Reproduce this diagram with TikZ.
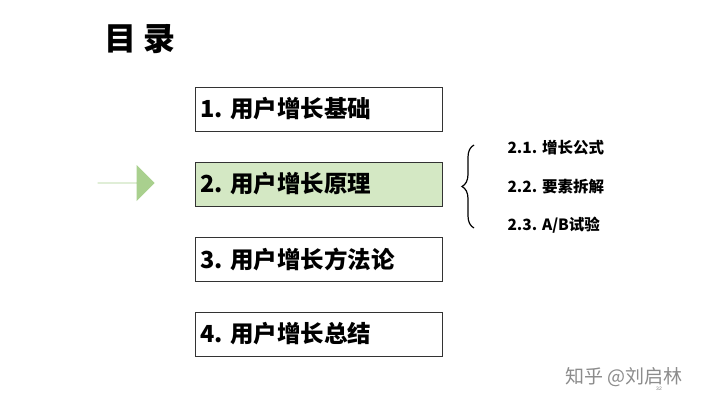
\documentclass[tikz,border=0pt]{standalone}
\usepackage{fontspec}
\setmainfont{Liberation Sans}
\newfontfamily\cjk{Noto Sans CJK SC}
\usetikzlibrary{shapes.arrows,decorations.pathreplacing}
\begin{document}
\begin{tikzpicture}[x=1pt,y=-1pt,
  itembox/.style={draw=black!80,line width=1pt,minimum width=247pt,minimum height=44pt,anchor=north west,inner sep=0pt},
  itemtext/.style={anchor=west,font=\cjk\bfseries\fontsize{23.5}{26}\selectfont},
  subtext/.style={anchor=west,font=\cjk\bfseries\fontsize{15.5}{17}\selectfont}]
\useasboundingbox[fill=white] (0,0) rectangle (720,405);
\node[anchor=west,font=\cjk\bfseries\fontsize{32}{34}\selectfont] (title) at (101,39) {目 录};
\node[itembox] (b1) at (195,87) {};
\node[itembox,fill={rgb,255:red,212;green,232;blue,196}] (b2) at (195,162) {};
\node[itembox] (b3) at (195,237) {};
\node[itembox] (b4) at (195,312) {};
\node[itemtext] (t1) at (197,109) {1. 用户增长基础};
\node[itemtext] (t2) at (197,184) {2. 用户增长原理};
\node[itemtext] (t3) at (197,259) {3. 用户增长方法论};
\node[itemtext] (t4) at (197,334) {4. 用户增长总结};
\node[single arrow,fill={rgb,255:red,169;green,208;blue,142},draw=none,minimum height=57pt,minimum width=36pt,single arrow head extend=8pt,single arrow head indent=0pt,inner sep=0pt] (arr) at (126,183) {};
\coordinate (bt) at (474,145);
\coordinate (bb) at (474,228);
\draw[line width=1.2pt,decorate,decoration={brace,amplitude=12pt,mirror}] (bt) -- (bb);
\node[subtext] (s1) at (504,148) {2.1. 增长公式};
\node[subtext] (s2) at (504,187) {2.2. 要素拆解};
\node[subtext] (s3) at (504,225) {2.3. A/B试验};
\node[anchor=west,text=black!45,font=\cjk\fontsize{19}{21}\selectfont] (wm) at (562,377) {知乎 @刘启林};
\node[text=black!50,font=\fontsize{5}{6}\selectfont,inner sep=0pt] (pg) at (659,389) {32};
\end{tikzpicture}
\end{document}
